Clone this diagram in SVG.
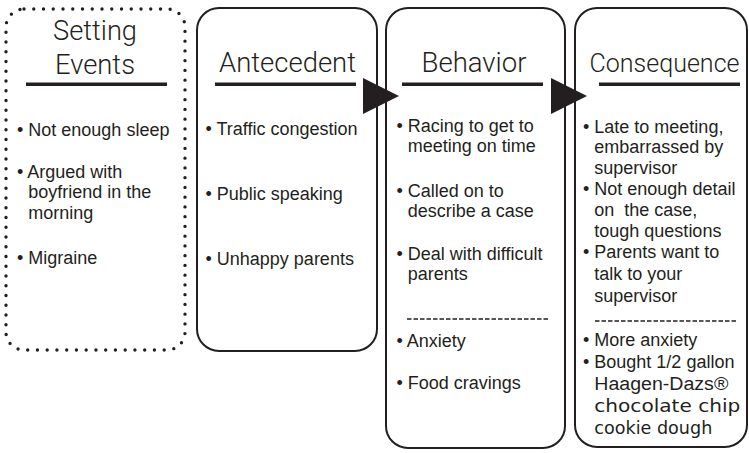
<svg xmlns="http://www.w3.org/2000/svg" width="749" height="453" viewBox="0 0 749 453">
<style>
.box{fill:none;stroke:#231f20;stroke-width:2}
.dots{fill:none;stroke:#231f20;stroke-width:3.4;stroke-linecap:round;stroke-dasharray:0 9.75}
.hd{font-family:Roboto,"Liberation Sans",sans-serif;font-weight:300;font-size:27px;fill:#231f20;text-anchor:middle}
.ul{fill:#231f20}
.t{font-family:"Liberation Sans",Arial,sans-serif;font-size:18px;fill:#231f20}
.v{font-family:"DejaVu Sans",Verdana,sans-serif;font-size:18px;fill:#231f20}
.dash{stroke:#231f20;stroke-width:1.3;stroke-dasharray:4.5 2}
.arrow{fill:#231f20}
</style>
<g id="setting-events">
<rect class="dots" x="6" y="9" width="179" height="341" rx="18"/>
<text class="hd" x="95" y="40" textLength="84" lengthAdjust="spacingAndGlyphs">Setting</text>
<text class="hd" x="95" y="74" textLength="80" lengthAdjust="spacingAndGlyphs">Events</text>
<rect class="ul" x="26" y="82.5" width="141" height="3.5"/>
<text class="t" x="17" y="136">• Not enough sleep</text>
<text class="t" x="17" y="178">• Argued with</text>
<text class="t" x="28.3" y="198">boyfriend in the</text>
<text class="t" x="28.3" y="219">morning</text>
<text class="t" x="17" y="264">• Migraine</text>
</g>
<g id="antecedent">
<rect class="box" x="197" y="8" width="180" height="343" rx="22"/>
<text class="hd" x="287.5" y="72" textLength="137" lengthAdjust="spacingAndGlyphs">Antecedent</text>
<rect class="ul" x="215" y="82.5" width="141" height="3.5"/>
<text class="t" x="205.5" y="135">• Traffic congestion</text>
<text class="t" x="205.5" y="200">• Public speaking</text>
<text class="t" x="205.5" y="265">• Unhappy parents</text>
</g>
<g id="behavior">
<rect class="box" x="386" y="8" width="179" height="440" rx="22"/>
<text class="hd" x="474" y="72" textLength="105" lengthAdjust="spacingAndGlyphs">Behavior</text>
<rect class="ul" x="402" y="82.5" width="141" height="3.5"/>
<text class="t" x="396.5" y="132">• Racing to get to</text>
<text class="t" x="407.8" y="152">meeting on time</text>
<text class="t" x="396.5" y="197">• Called on to</text>
<text class="t" x="407.8" y="217">describe a case</text>
<text class="t" x="396.5" y="260">• Deal with difficult</text>
<text class="t" x="407.8" y="280">parents</text>
<line class="dash" x1="407" y1="319" x2="549" y2="319"/>
<text class="t" x="396.5" y="347">• Anxiety</text>
<text class="t" x="396.5" y="389">• Food cravings</text>
</g>
<g id="consequence">
<rect class="box" x="575" y="8" width="172" height="439" rx="22"/>
<text class="hd" x="664.5" y="72" style="font-size:25.5px" textLength="150" lengthAdjust="spacingAndGlyphs">Consequence</text>
<rect class="ul" x="599" y="82.5" width="141" height="3.5"/>
<text class="t" x="583" y="133">• Late to meeting,</text>
<text class="t" x="594.3" y="153">embarrassed by</text>
<text class="t" x="594.3" y="174">supervisor</text>
<text class="t" x="583" y="195">• Not enough detail</text>
<text class="t" x="594.3" y="216" style="white-space:pre">on  the case,</text>
<text class="t" x="594.3" y="237">tough questions</text>
<text class="t" x="583" y="258">• Parents want to</text>
<text class="t" x="594.3" y="280">talk to your</text>
<text class="t" x="594.3" y="302">supervisor</text>
<line class="dash" x1="595" y1="321" x2="737" y2="321"/>
<text class="t" x="583" y="346">• More anxiety</text>
<text class="t" x="583" y="368">• Bought 1/2 gallon</text>
<text class="t" x="594.3" y="390" textLength="134" lengthAdjust="spacingAndGlyphs">Haagen-Dazs®</text>
<text class="v" x="594.3" y="412" textLength="146" lengthAdjust="spacingAndGlyphs">chocolate chip</text>
<text class="v" x="594.3" y="434" textLength="118" lengthAdjust="spacingAndGlyphs">cookie dough</text>
</g>
<g id="connectors">
<polygon class="arrow" points="363,78 399,96 363,114"/>
<polygon class="arrow" points="551,78 587,96 551,114"/>
</g>
</svg>
